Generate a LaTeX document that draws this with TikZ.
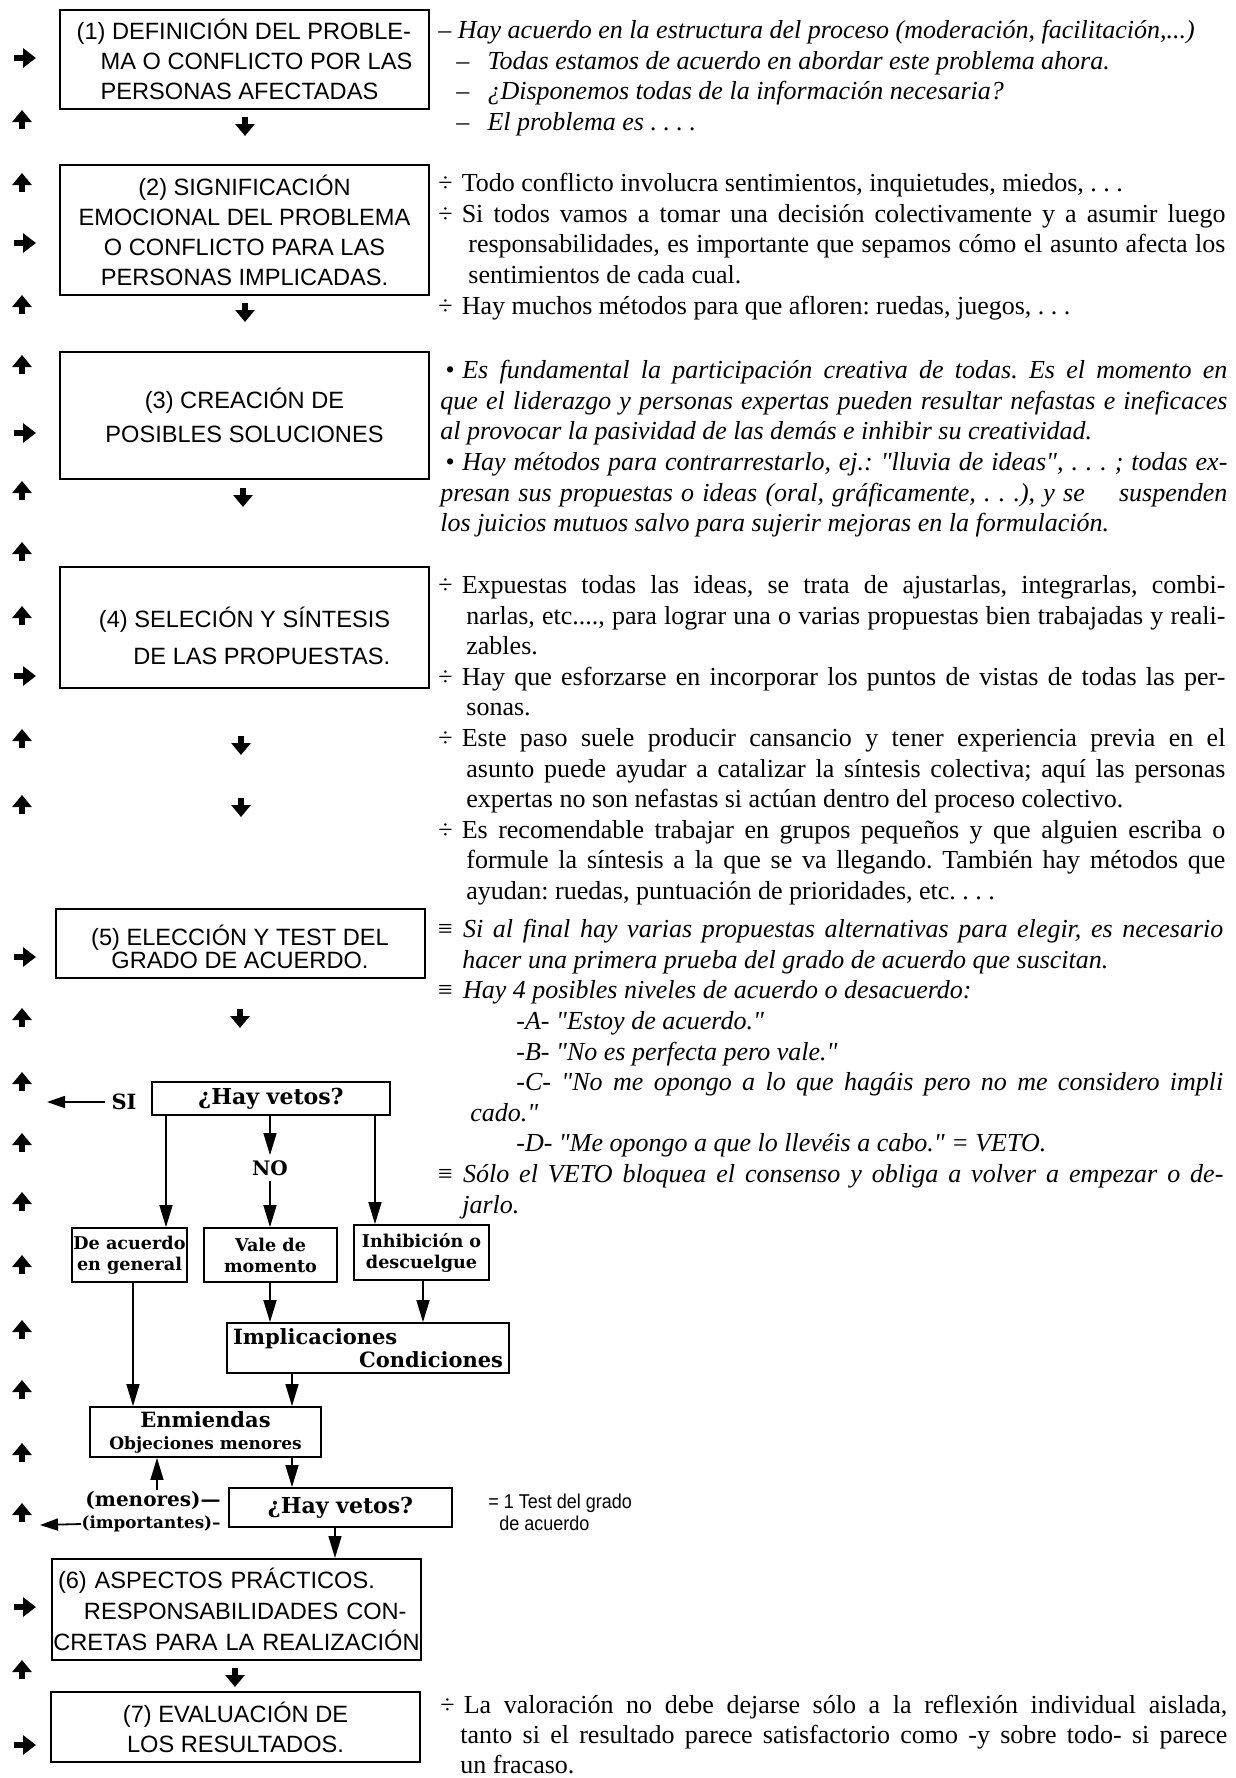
\documentclass[tikz,border=0pt]{standalone}
\usepackage{fontspec}
\setmainfont{Liberation Serif}[Ligatures=TeXOff]
\newfontfamily\boxfont{Liberation Sans}
\newfontfamily\narrowsans{Liberation Sans}[FakeStretch=0.9]
\newfontfamily\flowfont{DejaVu Serif}
\usetikzlibrary{arrows.meta,calc}
\newcommand\jline[1]{\makebox[393.5pt][s]{#1}}
\newcommand\jind[2]{\hspace*{#1}\makebox[\dimexpr393.5pt-#1\relax][s]{#2}}
\newcommand\dv{÷\hspace{0.35em}}
\newcommand\eqv{≡\hspace{0.35em}}
\frenchspacing
\begin{document}
\frenchspacing
\begin{tikzpicture}[x=0.5pt,y=-0.5pt,
  stepbox/.style={draw, line width=1pt, inner sep=0pt, minimum width=184.5pt, align=center, font=\boxfont\fontsize{11.8}{15}\selectfont},
  boxtext/.style={inner sep=0pt, font=\boxfont\fontsize{11.8}{15}\selectfont},
  flowbox/.style={draw, line width=0.9pt, inner sep=0pt, align=center, font=\flowfont\bfseries\fontsize{8.8}{10.5}\selectfont},
  flowlbl/.style={inner sep=0pt, font=\flowfont\bfseries\fontsize{10.5}{12}\selectfont},
  conn/.style={line width=0.75pt, -{Triangle[length=11pt,width=6.5pt]}},
  backconn/.style={line width=0.9pt, -{Triangle[length=9pt,width=6pt]}},
  note/.style={anchor=north west, inner sep=0pt, align=left, font=\frenchspacing\fontsize{13}{15.3}\selectfont},
  notei/.style={note, font=\frenchspacing\itshape\fontsize{13}{15.3}\selectfont},
  upglyph/.pic={\draw[line width=2.6pt,-{Triangle[length=6pt,width=9.5pt]}] (0,9)--(0,-10);},
  rightglyph/.pic={\draw[line width=2.6pt,-{Triangle[length=6.5pt,width=9.5pt]}] (-11,0)--(11,0);},
  downglyph/.pic={\draw[line width=2.6pt,-{Triangle[length=6pt,width=9.5pt]}] (0,-9)--(0,10);}
]
\useasboundingbox (0,0) rectangle (1236,1778);
\fill[white] (0,0) rectangle (1236,1778);

% left margin glyphs
\foreach \yy in {120,183,305,365,491,552,616,739,805,1018,1082,1143,1202,1265,1330,1390,1453,1513,1670}
  \pic at (22,\yy) {upglyph};
\foreach \yy in {58,243,433,676,957,1607,1745}
  \pic at (25,\yy) {rightglyph};
\foreach \xx/\yy in {245/126,245/312,243/497,241/745,241/807,240/1018,235/1677}
  \pic at (\xx,\yy) {downglyph};

% main step boxes
\node[stepbox, minimum height=49.5pt, align=left] (b1) at (244.5,59.5)
  {(1) DEFINICIÓN DEL PROBLE-\\\hspace*{12pt}MA O CONFLICTO POR LAS\\\hspace*{12pt}PERSONAS AFECTADAS};
\node[stepbox, minimum height=65pt] (b2) at (244.5,230)
  {(2) SIGNIFICACIÓN\\EMOCIONAL DEL PROBLEMA\\O CONFLICTO PARA LAS\\PERSONAS IMPLICADAS.};
\node[stepbox, minimum height=63.5pt, font=\boxfont\fontsize{11.8}{17}\selectfont] (b3) at (244.5,415.5)
  {(3) CREACIÓN DE\\POSIBLES SOLUCIONES};
\node[stepbox, minimum height=60.5pt] (b4) at (244.5,627.5) {};
\node[boxtext, align=right, font=\boxfont\fontsize{11.8}{18.5}\selectfont] (b4t) at (244.5,635.5)
  {(4) SELECIÓN Y SÍNTESIS\\DE LAS PROPUESTAS.};
\node[stepbox, minimum height=34.5pt] (b5) at (240,943.5) {};
\node[boxtext, align=center, font=\boxfont\fontsize{11.8}{11.6}\selectfont] (b5t) at (240,947)
  {(5) ELECCIÓN Y TEST DEL\\GRADO DE ACUERDO.};
\node[stepbox, minimum height=50.5pt, text width=184.5pt, align=left, font=\boxfont\fontsize{11.8}{15.5}\selectfont] (b6) at (236.5,1609.5)
  {\hspace*{3pt}(6) ASPECTOS PRÁCTICOS.\\\hspace*{16pt}RESPONSABILIDADES CON-\\\makebox[\linewidth][c]{CRETAS PARA LA REALIZACIÓN}};
\node[stepbox, minimum height=35pt] (b7) at (235.5,1727)
  {(7) EVALUACIÓN DE\\LOS RESULTADOS.};

% consensus flow
\node[flowbox, minimum width=119pt, minimum height=16.5pt, font=\flowfont\bfseries\fontsize{11}{13}\selectfont] (hv1) at (271,1098.5) {¿Hay vetos?};
\node[flowlbl] (si) at (124,1102) {SI};
\coordinate (siend) at (47,1102);
\draw[backconn, shorten <=3pt] (si.west) -- (siend);
\node[flowlbl, inner sep=2.5pt, font=\flowfont\bfseries\fontsize{10}{12}\selectfont] (no) at (270,1168) {NO};
\node[flowbox, minimum width=57.5pt, minimum height=27pt] (deA) at (129.5,1255) {De acuerdo\\en general};
\node[flowbox, minimum width=66.5pt, minimum height=27pt] (vale) at (270.5,1255) {Vale de\\momento};
\node[flowbox, minimum width=67.5pt, minimum height=27.5pt] (inh) at (421.5,1252.5) {Inhibición o\\descuelgue};
\node[flowbox, minimum width=141pt, minimum height=25pt, text width=135pt, align=left, font=\flowfont\bfseries\fontsize{10.5}{9.5}\selectfont] (imp) at (368,1348)
  {Implicaciones\\\hspace*{\fill}Condiciones};
\node[flowbox, minimum width=115.5pt, minimum height=25pt, font=\flowfont\bfseries\fontsize{10.5}{11}\selectfont] (enm) at (205.5,1432)
  {Enmiendas\\{\fontsize{8.5}{10}\selectfont Objeciones menores}};
\node[flowbox, minimum width=111.5pt, minimum height=19.5pt, font=\flowfont\bfseries\fontsize{11}{13}\selectfont] (hv2) at (340.5,1507.5) {¿Hay vetos?};
\node[flowlbl, anchor=east, font=\flowfont\bfseries\fontsize{10}{12}\selectfont] (men) at (221,1500) {(menores)—};
\node[flowlbl, anchor=east, font=\flowfont\bfseries\fontsize{8.4}{10}\selectfont] (imt) at (221,1524) {(importantes)–};
\coordinate (impend) at (40,1525);
\draw[backconn] (imt.west) -- (impend);

\draw[conn] (166,0 |- hv1.south) -- (166,0 |- deA.north);
\draw[conn] (270,0 |- hv1.south) -- (no.north);
\draw[conn] (no.south) -- (270,0 |- vale.north);
\draw[conn] (375,0 |- hv1.south) -- (375,0 |- inh.north);
\draw[conn] (133,0 |- deA.south) -- (133,0 |- enm.north);
\draw[conn] (270,0 |- vale.south) -- (270,0 |- imp.north);
\draw[conn] (423,0 |- inh.south) -- (423,0 |- imp.north);
\draw[conn] (292,0 |- imp.south) -- (292,0 |- enm.north);
\draw[conn] (292,0 |- enm.south) -- (292,0 |- hv2.north);
\draw[conn] (157,0 |- men.north) -- (157,0 |- enm.south);
\draw[conn] (335,0 |- hv2.south) -- (335,0 |- b6.north);

\node[anchor=north west, inner sep=0pt, align=left, font=\narrowsans\fontsize{10}{11}\selectfont] (tst) at (488,1494)
  {= 1 Test del grado\\\hspace*{5.5pt}de acuerdo};

% right column notes
\node[notei] (nA) at (438,20)
  {– Hay acuerdo en la estructura del proceso (moderación, facilitación,...)\\
   \hspace*{9pt}–\hspace*{0.7em}Todas estamos de acuerdo en abordar este problema ahora.\\
   \hspace*{9pt}–\hspace*{0.7em}¿Disponemos todas de la información necesaria?\\
   \hspace*{9pt}–\hspace*{0.7em}El problema es . . . .};
\node[note] (nB) at (438,173)
  {\dv Todo conflicto involucra sentimientos, inquietudes, miedos, . . .\\
   \jline{\dv Si todos vamos a tomar una decisión colectivamente y a asumir luego}\\
   \jind{15pt}{responsabilidades, es importante que sepamos cómo el asunto afecta los}\\
   \hspace*{15pt}sentimientos de cada cual.\\
   \dv Hay muchos métodos para que afloren: ruedas, juegos, . . .};
\node[notei] (nC) at (440,360)
  {\hspace*{2.5pt}\makebox[391pt][s]{•\hspace{0.3em}Es fundamental la participación creativa de todas. Es el momento en}\\
   \jline{que el liderazgo y personas expertas pueden resultar nefastas e ineficaces}\\
   al provocar la pasividad de las demás e inhibir su creatividad.\\
   \hspace*{2.5pt}\makebox[391pt][s]{•\hspace{0.3em}Hay métodos para contrarrestarlo, ej.: "lluvia de ideas", . . . ; todas ex-}\\
   \jline{presan sus propuestas o ideas (oral, gráficamente, . . .), y se\hspace{1em} suspenden}\\
   los juicios mutuos salvo para sujerir mejoras en la formulación.};
\node[note] (nD) at (438,575)
  {\jline{\dv Expuestas todas las ideas, se trata de ajustarlas, integrarlas, combi-}\\
   \jind{14pt}{narlas, etc...., para lograr una o varias propuestas bien trabajadas y reali-}\\
   \hspace*{14pt}zables.\\
   \jline{\dv Hay que esforzarse en incorporar los puntos de vistas de todas las per-}\\
   \hspace*{14pt}sonas.\\
   \jline{\dv Este paso suele producir cansancio y tener experiencia previa en el}\\
   \jind{14pt}{asunto puede ayudar a catalizar la síntesis colectiva; aquí las personas}\\
   \hspace*{14pt}expertas no son nefastas si actúan dentro del proceso colectivo.\\
   \jline{\dv Es recomendable trabajar en grupos pequeños y que alguien escriba o}\\
   \jind{14pt}{formule la síntesis a la que se va llegando. También hay métodos que}\\
   \hspace*{14pt}ayudan: ruedas, puntuación de prioridades, etc. . . .};
\node[notei] (nE) at (436,919)
  {\jline{\eqv Si al final hay varias propuestas alternativas para elegir, es necesario}\\
   \hspace*{13pt}hacer una primera prueba del grado de acuerdo que suscitan.\\
   \eqv Hay 4 posibles niveles de acuerdo o desacuerdo:\\
   \hspace*{40pt}-A- "Estoy de acuerdo."\\
   \hspace*{40pt}-B- "No es perfecta pero vale."\\
   \jind{40pt}{-C- "No me opongo a lo que hagáis pero no me considero impli}\\
   \hspace*{17pt}cado."\\
   \hspace*{40pt}-D- "Me opongo a que lo llevéis a cabo." = VETO.\\
   \jline{\eqv Sólo el VETO bloquea el consenso y obliga a volver a empezar o de-}\\
   \hspace*{13pt}jarlo.};
\node[note, font=\frenchspacing\fontsize{13}{15}\selectfont] (nF) at (440,1695)
  {\jline{\dv La valoración no debe dejarse sólo a la reflexión individual aislada,}\\
   \jind{10pt}{tanto si el resultado parece satisfactorio como -y sobre todo- si parece}\\
   \hspace*{10pt}un fracaso.};
\end{tikzpicture}
\end{document}
